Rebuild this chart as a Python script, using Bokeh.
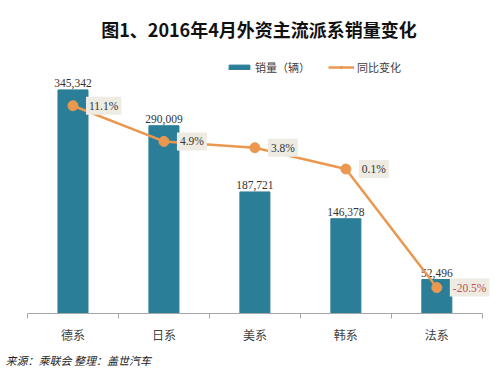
from bokeh.plotting import figure
from bokeh.models import (ColumnDataSource, Range1d, LinearAxis, FixedTicker,
                          Legend, LegendItem, Title)
from bokeh.core.properties import value
from bokeh.embed import file_html
from bokeh.resources import INLINE

categories = ["德系", "日系", "美系", "韩系", "法系"]
sales = [345342, 290009, 187721, 146378, 52496]
yoy_pct = [11.1, 4.9, 3.8, 0.1, -20.5]
title_text = "图1、2016年4月外资主流派系销量变化"
source_text = "来源：乘联会  整理：盖世汽车"

CJK = "Noto Sans CJK SC"
SERIF = "Liberation Serif"
BAR = "#2b7e98"
ORANGE = "#ea9850"

n = len(categories)
xpos = [i + 0.5 for i in range(n)]
src = ColumnDataSource(dict(
    x=xpos,
    cat=categories,
    sales=sales,
    pct=yoy_pct,
    sales_label=[f"{v:,}" for v in sales],
    pct_label=[f"{v}%" for v in yoy_pct],
    pct_color=["#c0504d" if v < 0 else "#333333" for v in yoy_pct],
))

p = figure(width=492, height=372, output_backend="svg", toolbar_location=None,
           x_range=Range1d(0, n + 0.09),
           y_range=Range1d(0, 400000), x_axis_type=None, y_axis_type=None,
           min_border_left=27, min_border_right=2, min_border_top=54, min_border_bottom=59)
p.extra_y_ranges = {"pct": Range1d(-25, 20)}
p.outline_line_color = None
p.xgrid.visible = False
p.ygrid.visible = False

bars = p.vbar(x="x", top="sales", width=0.33, source=src, color=BAR)
p.text(x="x", y="sales", text="sales_label", source=src, y_offset=-3,
       text_align="center", text_baseline="bottom", text_font=value(SERIF),
       text_font_size="11.5px", text_color="#333333")

ln = p.line(x="x", y="pct", source=src, y_range_name="pct", line_color=ORANGE, line_width=2.5)
sc = p.scatter(x="x", y="pct", source=src, y_range_name="pct", size=10,
               fill_color=ORANGE, line_color=ORANGE)
p.text(x="x", y="pct", text="pct_label", source=src, y_range_name="pct", x_offset=13,
       text_align="left", text_baseline="middle", text_font=value(SERIF),
       text_font_size="11.5px", text_color="pct_color",
       background_fill_color="#eeebe3", padding=3)

bounds = list(range(n + 1))
ax = LinearAxis(ticker=FixedTicker(ticks=xpos, minor_ticks=bounds), bounds=(0, n),
                major_label_overrides={c: nm for c, nm in zip(xpos, categories)},
                axis_line_color="#a6a6a6", major_tick_out=0, major_tick_in=0,
                minor_tick_out=5, minor_tick_in=0, minor_tick_line_color="#a6a6a6",
                major_label_standoff=7, major_label_text_font=CJK,
                major_label_text_font_size="12px", major_label_text_color="#404040")
p.add_layout(ax, "below")

legend = Legend(items=[LegendItem(label="销量（辆）", renderers=[bars]),
                       LegendItem(label="同比变化", renderers=[ln, sc])],
                orientation="horizontal", location=(199, 238), padding=0, margin=0,
                spacing=18, glyph_width=26, glyph_height=6, label_standoff=3,
                label_text_font=CJK, label_text_font_size="11px", label_text_color="#404040",
                border_line_color=None, background_fill_alpha=0)
p.add_layout(legend)

p.title = Title(text=title_text, align="center",
                text_font=CJK, text_font_size="18px", text_font_style="bold",
                text_color="#111111", standoff=26)

p.add_layout(Title(text=source_text, align="left", offset=-22,
                   text_font=CJK, text_font_size="11px", text_font_style="italic",
                   text_color="#222222", standoff=8), "below")

open("out.html", "w").write(file_html(p, INLINE))
